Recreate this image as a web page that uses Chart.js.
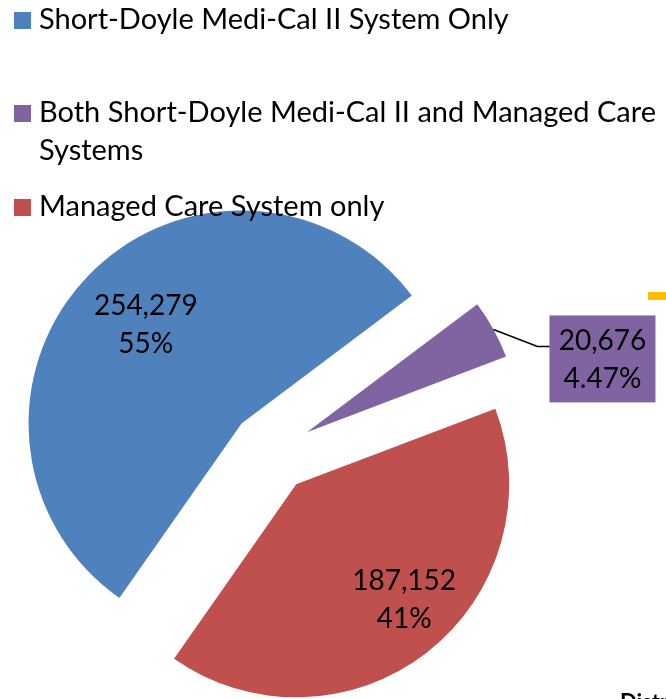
<!DOCTYPE html>
<html>
<head>
<meta charset="utf-8">
<script src="https://cdn.jsdelivr.net/npm/chart.js@4.4.1/dist/chart.umd.min.js"></script>
<style>
  html, body { margin: 0; padding: 0; width: 666px; height: 699px; overflow: hidden; background: #fff; }
  #wrap { position: absolute; left: 0; top: 0; width: 666px; height: 699px; }
  #legend { position: absolute; left: 0; top: 0; width: 666px; font-family: Lato, "Open Sans", sans-serif; font-size: 29px; color: #000; z-index: 2; }
  .item { position: absolute; left: 0; width: 666px; line-height: 38px; white-space: nowrap; }
  .item .txt { position: absolute; left: 39px; top: 0; }
  .item .box { position: absolute; left: 14px; width: 17px; height: 17px; }
  #dist { position: absolute; left: 620px; top: 688px; font-family: Lato, sans-serif; font-weight: bold; font-size: 22px; white-space: nowrap; z-index: 2; }
  #yellow { position: absolute; left: 648px; top: 292px; width: 18px; height: 8px; background: #FFC000; z-index: 2; }
</style>
</head>
<body>
<div id="wrap"><canvas id="c"></canvas></div>
<div id="legend"></div>
<div id="yellow"></div>
<div id="dist">Distribution</div>
<script>
// ---- data ----
const categories = [
  'Short-Doyle Medi-Cal II System Only',
  ['Both Short-Doyle Medi-Cal II and Managed Care', 'Systems'],
  'Managed Care System only'
];
const values = [254279, 20676, 187152];
const percentLabels = ['55%', '4.47%', '41%'];

// ---- styling / layout (kept apart from data) ----
const colors = ['#4F81BD', '#8064A2', '#C0504D'];
const LAYOUT = {
  radius: 213,
  explode: 41,
  rotation: 215,
  padding: { left: 0, right: 124, top: 205, bottom: 0 },
  labelFrac: [0.615, null, 0.774],
  labelShiftDeg: [-1, 0, -3],
  lineGap: 38,
  legendTops: [-1.2, 91.8, 185.8],
  legendBoxTop: 13.2
};

// ---- HTML legend ----
const legendEl = document.getElementById('legend');
categories.forEach((cat, i) => {
  const lines = Array.isArray(cat) ? cat : [cat];
  const item = document.createElement('div');
  item.className = 'item';
  item.style.top = LAYOUT.legendTops[i] + 'px';
  const box = document.createElement('div');
  box.className = 'box';
  box.style.background = colors[i];
  box.style.top = LAYOUT.legendBoxTop + 'px';
  const txt = document.createElement('div');
  txt.className = 'txt';
  txt.innerHTML = lines.map(l => l.replace(/&/g, '&amp;').replace(/</g, '&lt;')).join('<br>');
  item.appendChild(box);
  item.appendChild(txt);
  legendEl.appendChild(item);
});

// ---- plugins ----
const explodePlugin = {
  id: 'explode',
  afterDatasetUpdate(chart, args) {
    const meta = chart.getDatasetMeta(args.index);
    meta.data.forEach(arc => {
      const mid = (arc.startAngle + arc.endAngle) / 2;
      arc.x += Math.cos(mid) * LAYOUT.explode;
      arc.y += Math.sin(mid) * LAYOUT.explode;
    });
  }
};

const labelPlugin = {
  id: 'sliceLabels',
  afterDatasetsDraw(chart) {
    const ctx = chart.ctx;
    const meta = chart.getDatasetMeta(0);
    meta.data.forEach((arc, i) => {
      const mid = (arc.startAngle + arc.endAngle) / 2;
      const r = arc.outerRadius;
      const lines = [values[i].toLocaleString('en-US'), percentLabels[i]];
      ctx.save();
      ctx.font = '28px Lato, "Open Sans", sans-serif';
      ctx.textAlign = 'center';
      ctx.textBaseline = 'alphabetic';
      if (LAYOUT.labelFrac[i] !== null) {
        const a = mid + LAYOUT.labelShiftDeg[i] * Math.PI / 180;
        const px = arc.x + Math.cos(a) * r * LAYOUT.labelFrac[i];
        const py = arc.y + Math.sin(a) * r * LAYOUT.labelFrac[i];
        ctx.fillStyle = '#000';
        ctx.fillText(lines[0], px, py - LAYOUT.lineGap / 2);
        ctx.fillText(lines[1], px, py + LAYOUT.lineGap / 2);
      } else {
        const ox = arc.x + Math.cos(mid) * r;
        const oy = arc.y + Math.sin(mid) * r;
        const ex = ox + 44, ey = oy + 17;
        const bx = ex + 12, by = ey - 31, bw = 106, bh = 87;
        ctx.fillStyle = colors[i];
        ctx.fillRect(bx, by, bw, bh);
        ctx.strokeStyle = '#000';
        ctx.lineWidth = 1.5;
        ctx.beginPath();
        ctx.moveTo(ox, oy);
        ctx.lineTo(ex, ey);
        ctx.lineTo(bx, ey);
        ctx.stroke();
        ctx.fillStyle = '#000';
        ctx.fillText(lines[0], bx + bw / 2, ey + 4);
        ctx.fillText(lines[1], bx + bw / 2, ey + 42);
      }
      ctx.restore();
    });
  }
};

new Chart(document.getElementById('c'), {
  type: 'pie',
  data: {
    labels: categories,
    datasets: [{
      data: values,
      backgroundColor: colors,
      borderWidth: 0,
      clip: false
    }]
  },
  options: {
    responsive: true,
    maintainAspectRatio: false,
    animation: false,
    rotation: LAYOUT.rotation,
    radius: LAYOUT.radius,
    layout: { padding: LAYOUT.padding },
    events: [],
    plugins: { legend: { display: false }, tooltip: { enabled: false } }
  },
  plugins: [explodePlugin, labelPlugin]
});
</script>
</body>
</html>
